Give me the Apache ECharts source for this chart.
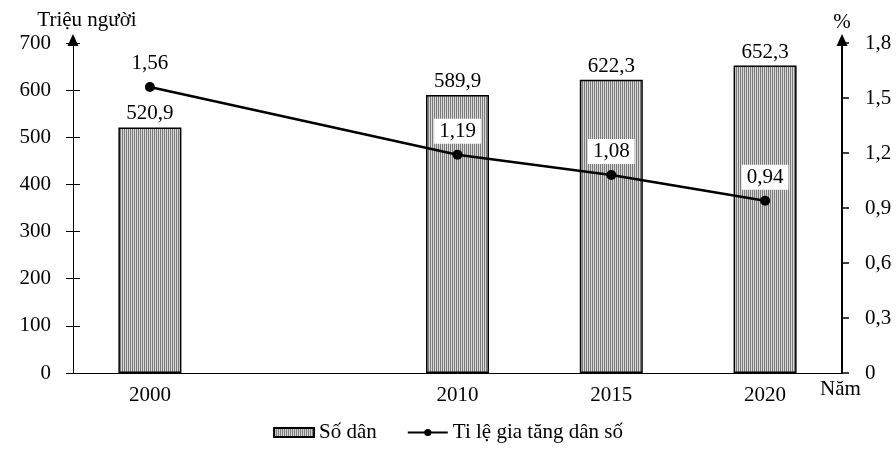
<!DOCTYPE html>
<html>
<head>
<meta charset="utf-8">
<script src="https://cdn.jsdelivr.net/npm/echarts@6/dist/echarts.min.js"></script>
<style>
  html, body { margin: 0; padding: 0; background: #fff; }
  #chart { width: 896px; height: 452px; }
</style>
</head>
<body>
<div id="chart"></div>
<script>
// data
var years = [2000, 2010, 2015, 2020];
var population = [520.9, 589.9, 622.3, 652.3];   // triệu người
var growthRate = [1.56, 1.19, 1.08, 0.94];       // %
var leftTicks = [0, 700, 100];                   // min, max, step
var rightTicks = [0, 1.8, 0.3];

var FONT = 'Liberation Serif';
var FS = 21;

function comma(v) {
    return String(v).replace('.', ',');
}

// vertical stripe fill for the bars
function stripes() {
    var c = document.createElement('canvas');
    c.width = 2;
    c.height = 4;
    var ctx = c.getContext('2d');
    ctx.fillStyle = '#d9d9d9';
    ctx.fillRect(0, 0, 2, 4);
    ctx.fillStyle = '#7a7a7a';
    ctx.fillRect(0, 0, 1, 4);
    return c;
}

var barData = years.map(function(y, i) { return [y, population[i]]; });
var lineData = years.map(function(y, i) { return [y, growthRate[i]]; });

var chart = echarts.init(document.getElementById('chart'));
var textBase = { color: '#000', fontFamily: FONT, fontSize: FS };

var option = {
    backgroundColor: '#fff',
    textStyle: textBase,
    animation: false,
    grid: {
        left: 73,
        right: 54,
        top: 43,
        bottom: 79,
        containLabel: false,
        outerBoundsMode: 'none'
    },
    legend: {
        data: [{ name: 'Số dân', icon: 'rect' }, { name: 'Ti lệ gia tăng dân số' }],
        left: 'center',
        top: 417,
        itemWidth: 40,
        itemHeight: 9,
        itemGap: 30,
        textStyle: textBase
    },
    xAxis: {
        type: 'value',
        min: 1997.5,
        max: 2022.5,
        name: 'Năm',
        nameLocation: 'end',
        nameGap: -22,
        nameMoveOverlap: false,
        nameTextStyle: {
            color: '#000',
            fontFamily: FONT,
            fontSize: FS,
            align: 'left',
            verticalAlign: 'top',
            padding: [6, 0, 0, 0]
        },
        axisLine: { lineStyle: { color: '#000', width: 1 } },
        axisTick: { show: false },
        splitLine: { show: false },
        axisLabel: {
            customValues: years,
            margin: 12,
            color: '#000',
            fontFamily: FONT,
            fontSize: FS,
            formatter: function(v) { return String(v); }
        }
    },
    yAxis: [{
        type: 'value',
        position: 'left',
        min: leftTicks[0],
        max: leftTicks[1],
        interval: leftTicks[2],
        name: 'Triệu người',
        nameLocation: 'end',
        nameGap: 23,
        nameTextStyle: {
            color: '#000',
            fontFamily: FONT,
            fontSize: FS,
            align: 'center',
            verticalAlign: 'middle',
            padding: [0, 0, 0, 28]
        },
        axisLine: {
            show: true,
            symbol: ['none', 'triangle'],
            symbolSize: [11, 12],
            symbolOffset: [0, 3],
            lineStyle: { color: '#000', width: 1 }
        },
        axisTick: { show: true, length: 7, lineStyle: { color: '#000' } },
        splitLine: { show: false },
        axisLabel: { margin: 22, color: '#000', fontFamily: FONT, fontSize: FS }
    }, {
        type: 'value',
        position: 'right',
        min: rightTicks[0],
        max: rightTicks[1],
        interval: rightTicks[2],
        name: '%',
        nameLocation: 'end',
        nameGap: 21,
        nameTextStyle: {
            color: '#000',
            fontFamily: FONT,
            fontSize: FS,
            align: 'center',
            verticalAlign: 'middle'
        },
        axisLine: {
            show: true,
            symbol: ['none', 'triangle'],
            symbolSize: [11, 12],
            symbolOffset: [0, 3],
            lineStyle: { color: '#000', width: 2 }
        },
        axisTick: { show: true, length: 7, lineStyle: { color: '#000', width: 1.5 } },
        splitLine: { show: false },
        axisLabel: {
            margin: 23,
            color: '#000',
            fontFamily: FONT,
            fontSize: FS,
            formatter: function(v) { return v === 0 ? '0' : comma(v.toFixed(1)); }
        }
    }, {
        // inner half of the left ticks (they cross the axis)
        type: 'value',
        position: 'left',
        min: leftTicks[0],
        max: leftTicks[1],
        interval: leftTicks[2],
        axisLine: { show: false },
        axisTick: { show: true, inside: true, length: 7, lineStyle: { color: '#000' } },
        axisLabel: { show: false },
        splitLine: { show: false }
    }],
    series: [{
        name: 'Số dân',
        type: 'bar',
        yAxisIndex: 0,
        barWidth: 63,
        itemStyle: {
            color: { image: stripes(), repeat: 'repeat' },
            borderColor: '#000',
            borderWidth: 1.5
        },
        label: {
            show: true,
            position: 'top',
            distance: 3,
            color: '#000',
            fontFamily: FONT,
            fontSize: FS,
            formatter: function(p) { return comma(p.value[1]); }
        },
        data: barData
    }, {
        name: 'Ti lệ gia tăng dân số',
        type: 'line',
        yAxisIndex: 1,
        symbol: 'circle',
        symbolSize: 10,
        itemStyle: { color: '#000' },
        lineStyle: { color: '#000', width: 2.5 },
        label: {
            show: true,
            position: 'top',
            distance: 6,
            color: '#000',
            fontFamily: FONT,
            fontSize: FS,
            backgroundColor: '#fff',
            padding: [2, 5],
            formatter: function(p) { return comma(p.value[1].toFixed(2)); }
        },
        data: lineData
    }]
};

chart.setOption(option);
</script>
</body>
</html>
